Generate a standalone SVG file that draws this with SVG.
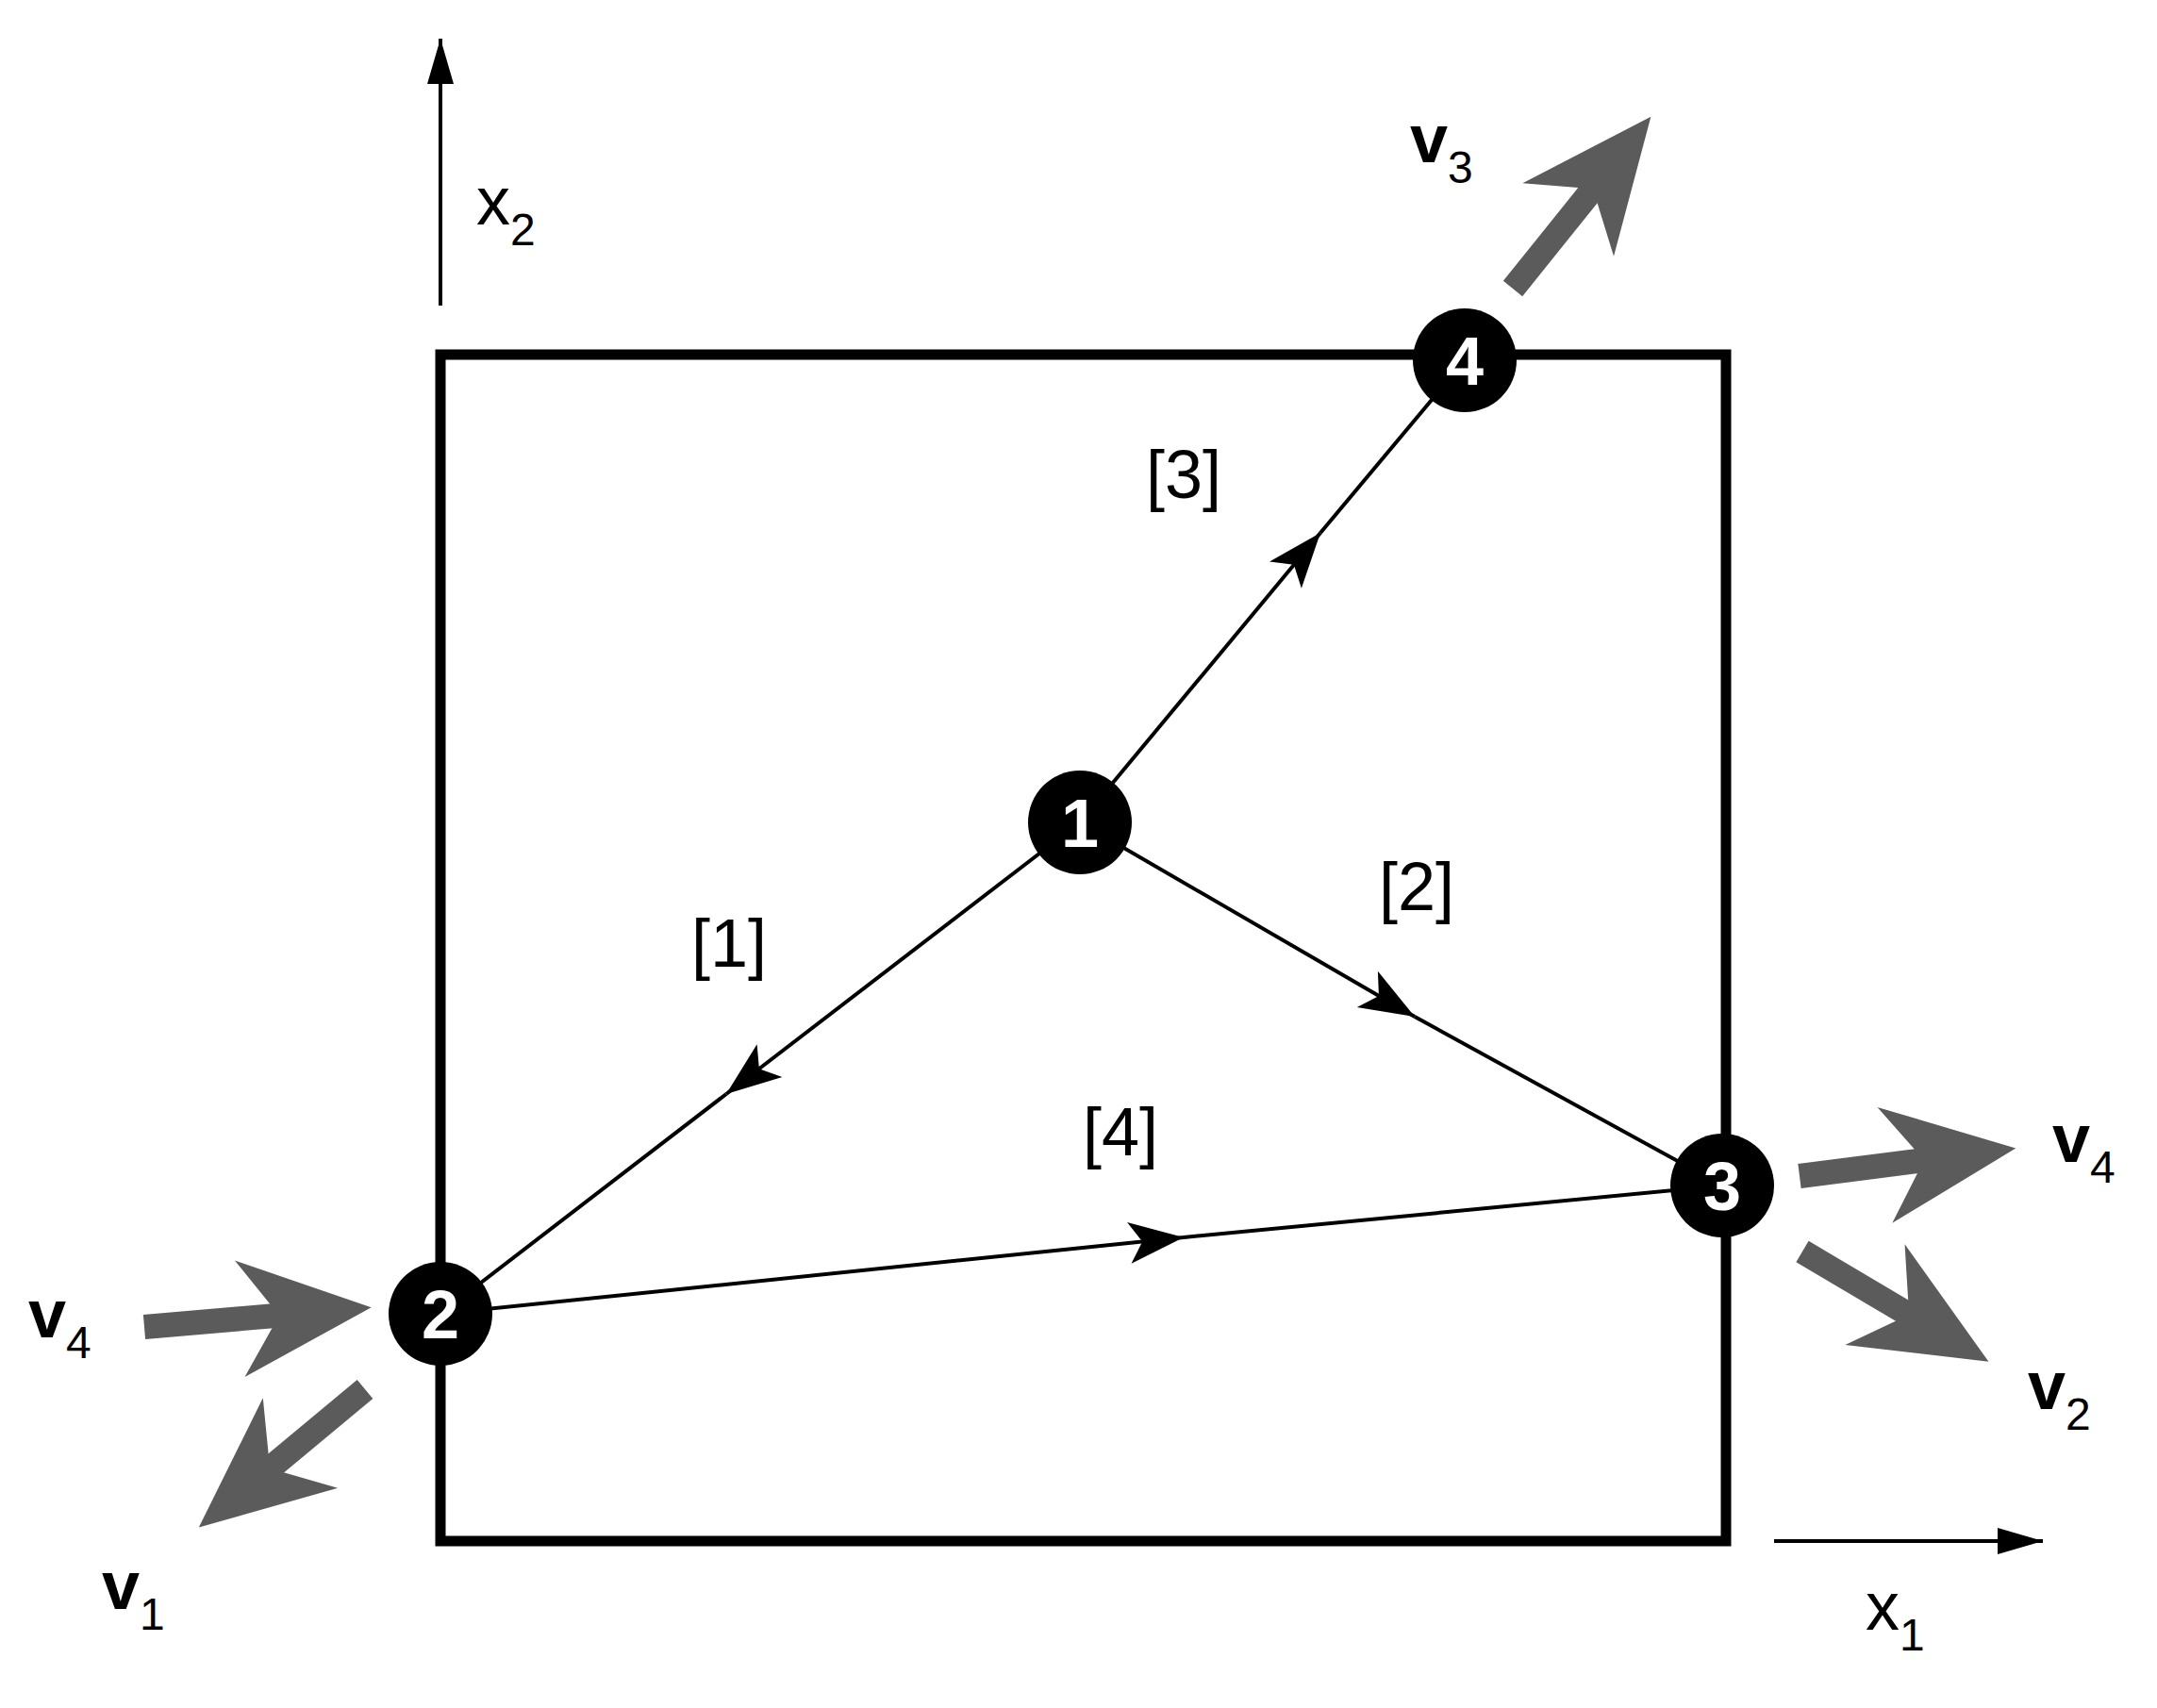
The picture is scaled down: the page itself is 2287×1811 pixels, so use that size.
<svg xmlns="http://www.w3.org/2000/svg" width="2287" height="1811" viewBox="0 0 2287 1811">
<style>
.t{font-family:"Liberation Sans",Arial,sans-serif;fill:#000}
.v{font-weight:bold;font-size:72px}
.s{font-size:48px}
.lb{font-size:72px}
.n{font-family:"Liberation Sans",Arial,sans-serif;font-weight:bold;font-size:72px;fill:#fff;text-anchor:middle}
.e{stroke:#000;stroke-width:4;fill:none}
.g{stroke:#5b5b5b;stroke-width:26;fill:none}
</style>
<defs>
<marker id="ah" markerUnits="userSpaceOnUse" markerWidth="80" markerHeight="60" viewBox="-60 -30 80 60" refX="0" refY="0" orient="auto" overflow="visible"><path d="M0,0 L-58,-22 L-44,0 L-58,22 z" fill="#000"/></marker>
<marker id="gh" markerUnits="userSpaceOnUse" markerWidth="200" markerHeight="160" viewBox="-60 -80 200 160" refX="0" refY="0" orient="auto" overflow="visible"><path d="M90,0 L-50,-62 L-8,0 L-50,62 z" fill="#5b5b5b"/></marker>
<marker id="ax" markerUnits="userSpaceOnUse" markerWidth="60" markerHeight="40" viewBox="-50 -20 60 40" refX="0" refY="0" orient="auto" overflow="visible"><path d="M0,0 L-48,-14 L-48,14 z" fill="#000"/></marker>
</defs>
<rect x="467" y="376" width="1363" height="1258" fill="none" stroke="#000" stroke-width="11"/>
<g id="axes">
<line x1="467" y1="324" x2="467" y2="41" stroke="#000" stroke-width="4" marker-end="url(#ax)"/>
<line x1="1881" y1="1634" x2="2166" y2="1634" stroke="#000" stroke-width="4" marker-end="url(#ax)"/>
<text class="t lb" x="505" y="238" font-size="68">x<tspan class="s" dy="22">2</tspan></text>
<text class="t lb" x="1978" y="1728" font-size="68">x<tspan class="s" dy="22">1</tspan></text>
</g>
<g id="connectors">
<path class="e" d="M1145,872 L1400,565" marker-end="url(#ah)"/><path class="e" d="M1400,565 L1553,382"/>
<path class="e" d="M1145,872 L770,1160" marker-end="url(#ah)"/><path class="e" d="M770,1160 L467,1393"/>
<path class="e" d="M1145,872 L1500,1078" marker-end="url(#ah)"/><path class="e" d="M1500,1078 L1826,1257"/>
<path class="e" d="M467,1393 L1255,1312" marker-end="url(#ah)"/><path class="e" d="M1255,1312 L1826,1257"/>
<text class="t lb" x="1215" y="528">[3]</text>
<text class="t lb" x="1462" y="965">[2]</text>
<text class="t lb" x="733" y="1025">[1]</text>
<text class="t lb" x="1148" y="1225">[4]</text>
</g>
<g id="forces">
<line class="g" x1="1604" y1="306" x2="1694" y2="194" marker-end="url(#gh)"/>
<line class="g" x1="1908" y1="1247" x2="2048" y2="1229" marker-end="url(#gh)"/>
<line class="g" x1="1911" y1="1327" x2="2031" y2="1398" marker-end="url(#gh)"/>
<line class="g" x1="153" y1="1407" x2="304" y2="1394" marker-end="url(#gh)"/>
<line class="g" x1="387" y1="1473" x2="280" y2="1562" marker-end="url(#gh)"/>
<text class="t v" x="1495" y="172">v<tspan class="s" font-weight="normal" dy="22">3</tspan></text>
<text class="t v" x="2176" y="1232">v<tspan class="s" font-weight="normal" dy="22">4</tspan></text>
<text class="t v" x="2150" y="1494">v<tspan class="s" font-weight="normal" dy="22">2</tspan></text>
<text class="t v" x="30" y="1418">v<tspan class="s" font-weight="normal" dy="22">4</tspan></text>
<text class="t v" x="108" y="1706">v<tspan class="s" font-weight="normal" dy="22">1</tspan></text>
</g>
<g id="node1"><circle cx="1145" cy="872" r="55" fill="#000"/><text class="n" x="1145" y="898">1</text></g>
<g id="node2"><circle cx="467" cy="1393" r="55" fill="#000"/><text class="n" x="467" y="1419">2</text></g>
<g id="node3"><circle cx="1826" cy="1257" r="55" fill="#000"/><text class="n" x="1826" y="1283">3</text></g>
<g id="node4"><circle cx="1553" cy="382" r="55" fill="#000"/><text class="n" x="1553" y="408">4</text></g>
</svg>
